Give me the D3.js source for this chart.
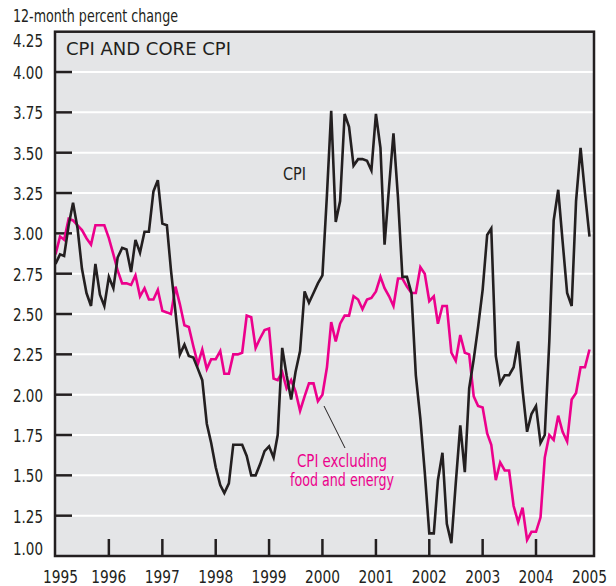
<!DOCTYPE html>
<html>
<head>
<meta charset="utf-8">
<script src="https://cdn.jsdelivr.net/npm/d3@7"></script>
<style>
  body { margin: 0; background: #fff; }
  svg text { font-family: "Liberation Sans Narrow", "DejaVu Sans Condensed", "Arial Narrow", sans-serif; }
</style>
</head>
<body>
<div id="chart"></div>
<script>
// 12-month percent change, monthly, Jan 1995 .. Jan 2005
var startYear = 1995;

var cpi = [
  2.81, 2.87, 2.86, 3.05, 3.19, 3.03, 2.78, 2.63, 2.55, 2.81, 2.62, 2.55,
  2.73, 2.66, 2.85, 2.91, 2.90, 2.76, 2.96, 2.88, 3.01, 3.01, 3.26, 3.33,
  3.06, 3.05, 2.77, 2.51, 2.25, 2.31, 2.24, 2.23, 2.16, 2.09, 1.82, 1.70,
  1.55, 1.44, 1.39, 1.45, 1.69, 1.69, 1.69, 1.62, 1.50, 1.50, 1.57, 1.65,
  1.68, 1.61, 1.75, 2.29, 2.12, 1.97, 2.14, 2.27, 2.64, 2.57, 2.63, 2.69,
  2.74, 3.24, 3.76, 3.07, 3.20, 3.74, 3.66, 3.42, 3.46, 3.46, 3.45, 3.39,
  3.74, 3.53, 2.93, 3.29, 3.62, 3.22, 2.73, 2.73, 2.63, 2.12, 1.85, 1.52,
  1.14, 1.14, 1.47, 1.64, 1.20, 1.08, 1.45, 1.81, 1.52, 2.04, 2.22, 2.42,
  2.65, 2.99, 3.03, 2.24, 2.07, 2.12, 2.12, 2.17, 2.33, 2.03, 1.77, 1.88,
  1.93, 1.70, 1.75, 2.33, 3.08, 3.27, 2.95, 2.63, 2.55, 3.20, 3.53, 3.25,
  2.98
];

var core = [
  2.87, 2.98, 2.96, 3.09, 3.08, 3.05, 3.02, 2.97, 2.93, 3.05, 3.05, 3.05,
  2.97, 2.87, 2.77, 2.69, 2.69, 2.68, 2.74, 2.61, 2.66, 2.59, 2.59, 2.65,
  2.52, 2.51, 2.50, 2.67, 2.56, 2.43, 2.42, 2.30, 2.19, 2.28, 2.16, 2.22,
  2.22, 2.27, 2.13, 2.13, 2.25, 2.25, 2.26, 2.49, 2.48, 2.29, 2.35, 2.40,
  2.41, 2.10, 2.09, 2.14, 2.04, 2.09, 2.02, 1.90, 1.99, 2.07, 2.07, 1.96,
  2.00, 2.17, 2.45, 2.33, 2.44, 2.49, 2.49, 2.61, 2.59, 2.53, 2.59, 2.60,
  2.64, 2.73, 2.66, 2.61, 2.55, 2.72, 2.72, 2.67, 2.63, 2.63, 2.79, 2.75,
  2.58, 2.61, 2.44, 2.55, 2.55, 2.26, 2.21, 2.37, 2.26, 2.25, 1.99, 1.93,
  1.92, 1.76, 1.69, 1.47, 1.58, 1.53, 1.53, 1.31, 1.21, 1.30, 1.10, 1.15,
  1.15, 1.24, 1.61, 1.75, 1.72, 1.87, 1.77, 1.71, 1.97, 2.01, 2.17, 2.17,
  2.28
];

var yTicks = [1.00, 1.25, 1.50, 1.75, 2.00, 2.25, 2.50, 2.75, 3.00, 3.25, 3.50, 3.75, 4.00, 4.25];
var xYears = [1995, 1996, 1997, 1998, 1999, 2000, 2001, 2002, 2003, 2004, 2005];

var width = 616, height = 586;
var plot = {left: 55, right: 594, top: 31.7, bottom: 556};

var svg = d3.select("#chart")
  .append("svg")
  .attr("width", width)
  .attr("height", height);

var x = d3.scaleTime()
  .domain([new Date(1995, 0, 1), new Date(2005, 0, 1)])
  .range([55.5, 589.5]);

var y = d3.scaleLinear()
  .domain([1.00, 4.25])
  .range([plot.bottom, plot.top]);

var dark = "#231f20";
var pink = "#ec008c";

// background
svg.append("rect")
  .attr("x", plot.left)
  .attr("y", plot.top)
  .attr("width", plot.right - plot.left)
  .attr("height", plot.bottom - plot.top)
  .attr("fill", "#e4e5e7");

var inner = yTicks.filter(function(d){ return d > 1 && d < 4.25; });

// white gridlines
svg.append("g").selectAll("line")
  .data(inner)
  .enter().append("line")
  .attr("x1", plot.left)
  .attr("x2", plot.right)
  .attr("y1", function(d){ return y(d); })
  .attr("y2", function(d){ return y(d); })
  .attr("stroke", "#fff")
  .attr("stroke-width", 2);

// y ticks (short, inside the left edge)
svg.append("g").selectAll("line")
  .data(inner)
  .enter().append("line")
  .attr("x1", plot.left)
  .attr("x2", plot.left + 17)
  .attr("y1", function(d){ return y(d); })
  .attr("y2", function(d){ return y(d); })
  .attr("stroke", dark)
  .attr("stroke-width", 2.5);

// x ticks (up from the bottom edge)
svg.append("g").selectAll("line")
  .data(xYears.filter(function(d){ return d > 1995 && d < 2005; }))
  .enter().append("line")
  .attr("x1", function(d){ return x(new Date(d, 0, 1)); })
  .attr("x2", function(d){ return x(new Date(d, 0, 1)); })
  .attr("y1", plot.bottom)
  .attr("y2", plot.bottom - 17)
  .attr("stroke", dark)
  .attr("stroke-width", 2.5);

var line = d3.line()
  .x(function(d, i){ return x(new Date(startYear, i, 1)); })
  .y(function(d){ return y(d); });

svg.append("path")
  .datum(core)
  .attr("d", line)
  .attr("fill", "none")
  .attr("stroke", pink)
  .attr("stroke-width", 2.6);

svg.append("path")
  .datum(cpi)
  .attr("d", line)
  .attr("fill", "none")
  .attr("stroke", dark)
  .attr("stroke-width", 2.6);

// frame
svg.append("rect")
  .attr("x", plot.left)
  .attr("y", plot.top)
  .attr("width", plot.right - plot.left)
  .attr("height", plot.bottom - plot.top)
  .attr("fill", "none")
  .attr("stroke", dark)
  .attr("stroke-width", 2.5);

// y labels
svg.append("g").selectAll("text")
  .data(yTicks)
  .enter().append("text")
  .attr("x", 43)
  .attr("y", function(d){
    if (d === 4.25) return 47;
    if (d === 1.00) return 555;
    return y(d) + 7;
  })
  .attr("text-anchor", "end")
  .attr("font-size", "17px")
  .attr("fill", dark)
  .attr("textLength", 30)
  .attr("lengthAdjust", "spacingAndGlyphs")
  .text(function(d){ return d3.format(".2f")(d); });

// x labels
svg.append("g").selectAll("text")
  .data(xYears)
  .enter().append("text")
  .attr("x", function(d){
    var px = x(new Date(d, 0, 1));
    return d === 1995 ? px + 5 : px;
  })
  .attr("y", 583)
  .attr("text-anchor", "middle")
  .attr("font-size", "17px")
  .attr("fill", dark)
  .attr("textLength", 35)
  .attr("lengthAdjust", "spacingAndGlyphs")
  .text(function(d){ return d; });

svg.append("text")
  .attr("x", 13)
  .attr("y", 22)
  .attr("font-size", "17px")
  .attr("fill", dark)
  .attr("textLength", 165)
  .attr("lengthAdjust", "spacingAndGlyphs")
  .text("12-month percent change");

svg.append("text")
  .attr("x", 66)
  .attr("y", 55)
  .attr("font-size", "18px")
  .attr("fill", dark)
  .attr("textLength", 165)
  .attr("lengthAdjust", "spacingAndGlyphs")
  .text("CPI AND CORE CPI");

svg.append("text")
  .attr("x", 283)
  .attr("y", 180)
  .attr("font-size", "18px")
  .attr("fill", dark)
  .attr("textLength", 23)
  .attr("lengthAdjust", "spacingAndGlyphs")
  .text("CPI");

// leader from the core series to its label
svg.append("line")
  .attr("x1", 324)
  .attr("y1", 406)
  .attr("x2", 345)
  .attr("y2", 448)
  .attr("stroke", dark)
  .attr("stroke-width", 1);

var coreLabel = svg.append("g")
  .attr("font-size", "18px")
  .attr("fill", pink);
coreLabel.append("text")
  .attr("x", 297).attr("y", 467)
  .attr("textLength", 90)
  .attr("lengthAdjust", "spacingAndGlyphs")
  .text("CPI excluding");
coreLabel.append("text")
  .attr("x", 290).attr("y", 486)
  .attr("textLength", 104)
  .attr("lengthAdjust", "spacingAndGlyphs")
  .text("food and energy");
</script>
</body>
</html>
